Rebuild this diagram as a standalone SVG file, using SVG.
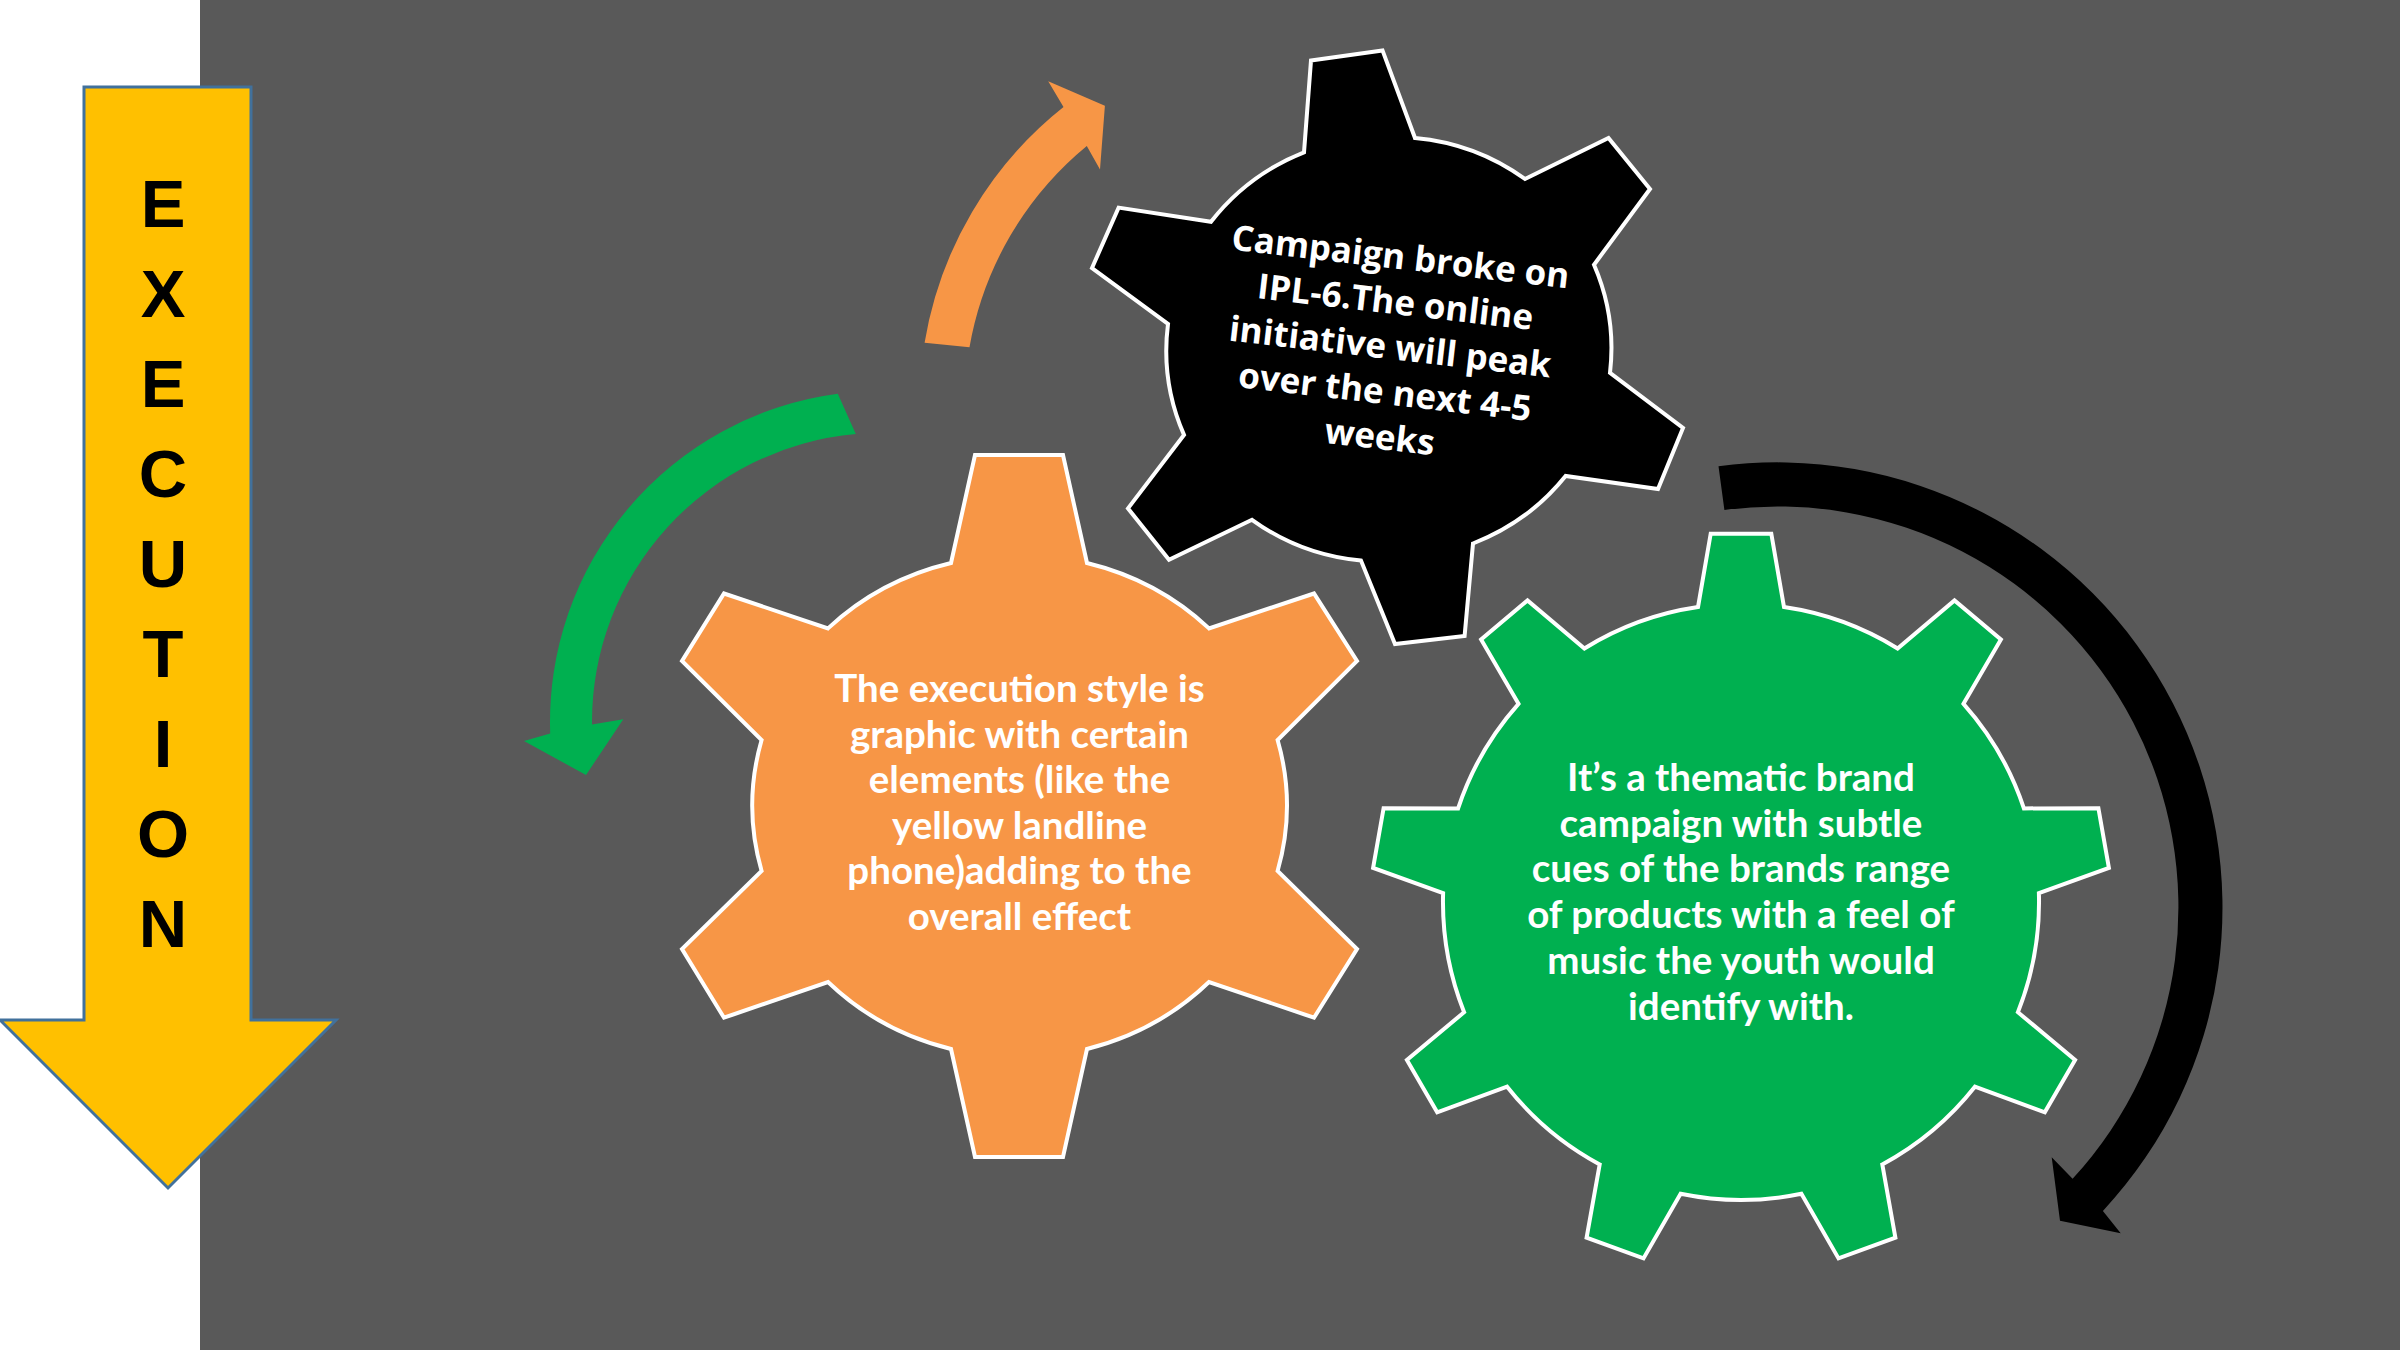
<svg xmlns="http://www.w3.org/2000/svg" width="2400" height="1350" viewBox="0 0 2400 1350">
<style>
.gear{stroke:#FFFFFF;stroke-width:4;stroke-linejoin:miter}
.lato{font-family:Lato,"Liberation Sans",sans-serif;font-weight:bold;font-size:38.5px;fill:#FFFFFF;text-anchor:middle}
.open{font-family:"Open Sans","Liberation Sans",sans-serif;font-weight:bold;font-size:35px;fill:#FFFFFF;text-anchor:middle}
.letter{font-family:"Liberation Sans",Arial,sans-serif;font-weight:bold;font-size:67px;fill:#000000;text-anchor:middle}
</style>
<rect x="0" y="0" width="2400" height="1350" fill="#FFFFFF"/>
<rect x="200" y="0" width="2200" height="1350" fill="#595959"/>

<g id="execution-arrow">
<polygon points="84,87 251,87 251,1020 336,1020 168,1188 0,1020 84,1020" fill="#FFC000" stroke="#41719C" stroke-width="3"/>
<text class="letter" x="163" y="226.7">E</text>
<text class="letter" x="163" y="316.7">X</text>
<text class="letter" x="163" y="406.7">E</text>
<text class="letter" x="163" y="496.7">C</text>
<text class="letter" x="163" y="586.7">U</text>
<text class="letter" x="163" y="676.7">T</text>
<text class="letter" x="163" y="766.7">I</text>
<text class="letter" x="163" y="856.7">O</text>
<text class="letter" x="163" y="946.7">N</text>
</g>

<g id="connectors">
<path id="arrow-orange" fill="#F79646" d="M 924.6 342.7 A 380 380 0 0 1 1063.5 107 L 1048.2 81.2 L 1104.9 105.8 L 1100 169.5 L 1086.8 146 A 335 335 0 0 0 969.5 347.2 Z"/>
<path id="arrow-green" fill="#00B050" d="M 837.8 393.8 A 331 331 0 0 0 550.2 733.6 L 524 741 L 586 775 L 623.3 719.3 L 592 724.5 A 289 289 0 0 1 855.8 434.1 Z"/>
<path id="arrow-black" fill="#000000" d="M 1718.5 466.3 A 445 445 0 0 1 2102.9 1210.9 L 2120.7 1233.3 L 2060 1220.7 L 2051.7 1157.3 L 2072.6 1178.8 A 401 401 0 0 0 1724.4 509.9 Z"/>
</g>

<g id="gear-orange">
<path class="gear" fill="#F79646" d="M 975 455 L 1063 455 L 1087 563 A 267 251 0 0 1 1209 628.4 L 1314 593.5 L 1357 661 L 1277.6 740 A 267 251 0 0 1 1277.6 871 L 1357 949 L 1314 1017.7 L 1209 982 A 267 251 0 0 1 1087 1049 L 1063 1157 L 975 1157 L 951 1049 A 267 251 0 0 1 828 982 L 724 1017.7 L 682 949 L 761.6 871 A 267 251 0 0 1 761.6 740 L 682 661 L 724 593.5 L 828 628.4 A 267 251 0 0 1 951 563 Z"/>
<text class="lato" x="1019.5" y="702">The execution style is</text>
<text class="lato" x="1019.5" y="747.6">graphic with certain</text>
<text class="lato" x="1019.5" y="793.2">elements (like the</text>
<text class="lato" x="1019.5" y="838.8">yellow landline</text>
<text class="lato" x="1019.5" y="884.4">phone)adding to the</text>
<text class="lato" x="1019.5" y="930">overall effect</text>
</g>

<g id="gear-black">
<path class="gear" fill="#000000" d="M 1311 60.6 L 1382.5 50.4 L 1415 138 A 220 215 -7 0 1 1525 179 L 1608.5 138 L 1650 189 L 1594 264.7 A 220 215 -7 0 1 1610 372.9 L 1683 428 L 1658 489 L 1565.6 476 A 220 215 -7 0 1 1473 543.5 L 1464.6 636 L 1395 644 L 1361 560.6 A 220 215 -7 0 1 1252 519.8 L 1169 559.8 L 1128 508.4 L 1184 434.9 A 220 215 -7 0 1 1168 323.9 L 1092 268 L 1118.6 207.6 L 1211 221.8 A 220 215 -7 0 1 1304 152.4 Z"/>
<g transform="rotate(6.6 1388.8 359)">
<text class="open" x="1388.8" y="268.4">Campaign broke on</text>
<text class="open" x="1388.8" y="313.7">IPL-6.The online</text>
<text class="open" x="1388.8" y="359">initiative will peak</text>
<text class="open" x="1388.8" y="404.3">over the next 4-5</text>
<text class="open" x="1388.8" y="449.6">weeks</text>
</g>
</g>

<g id="gear-green">
<path class="gear" fill="#00B050" d="M 1698 607.1 L 1710.7 533.7 L 1771.3 533.7 L 1784 607.1 A 298 298 0 0 1 1897.6 648.5 L 1954.5 600.4 L 2000.9 639.4 L 1963.5 703.8 A 298 298 0 0 1 2023.9 808.4 L 2098.4 808.2 L 2108.9 867.9 L 2038.9 893.2 A 298 298 0 0 1 2017.9 1012.2 L 2075.1 1059.9 L 2044.8 1112.3 L 1974.9 1086.7 A 298 298 0 0 1 1882.3 1164.4 L 1895.4 1237.7 L 1838.5 1258.4 L 1801.4 1193.8 A 298 298 0 0 1 1680.6 1193.8 L 1643.5 1258.4 L 1586.6 1237.7 L 1599.7 1164.4 A 298 298 0 0 1 1507.1 1086.7 L 1437.2 1112.3 L 1406.9 1059.9 L 1464.1 1012.2 A 298 298 0 0 1 1443.1 893.2 L 1373.1 867.9 L 1383.6 808.2 L 1458.1 808.4 A 298 298 0 0 1 1518.5 703.8 L 1481.1 639.4 L 1527.5 600.4 L 1584.4 648.5 A 298 298 0 0 1 1698 607.1 Z"/>
<text class="lato" x="1741" y="791">It’s a thematic brand</text>
<text class="lato" x="1741" y="836.7">campaign with subtle</text>
<text class="lato" x="1741" y="882.4">cues of the brands range</text>
<text class="lato" x="1741" y="928.1">of products with a feel of</text>
<text class="lato" x="1741" y="973.8">music the youth would</text>
<text class="lato" x="1741" y="1019.5">identify with.</text>
</g>
</svg>
